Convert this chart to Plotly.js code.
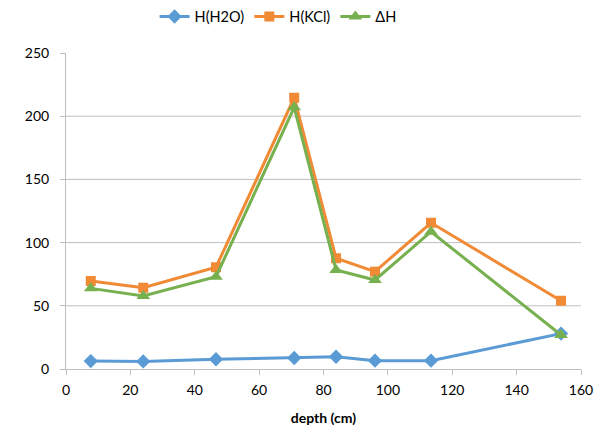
<!DOCTYPE html>
<html><head><meta charset="utf-8">
<script src="https://cdn.plot.ly/plotly-3.0.1.min.js"></script>
<style>html,body{margin:0;padding:0;background:#fff}#chart{width:597px;height:434px}</style>
</head><body><div id="chart"></div>
<script>
const depth = [7.7, 24.0, 46.6, 70.9, 83.9, 96.0, 113.4, 153.8];
const hH2O  = [6.3, 6.0, 7.7, 8.7, 9.7, 6.6, 6.6, 28.0];
const hKCl  = [69.6, 64.3, 80.5, 214.6, 87.6, 77.0, 115.7, 54.0];
const deltaH = [63.8, 57.8, 73.0, 207.0, 78.3, 70.4, 108.6, 26.9];
const names = ['H(H2O)', 'H(KCl)', '\u0394H'];
const xTicks = [0, 20, 40, 60, 80, 100, 120, 140, 160];
const yTicks = [0, 50, 100, 150, 200, 250];
const gridVals = [50, 100, 150, 200];

const font = 'Lato, "Open Sans", sans-serif';
const mk = (y, name, color, symbol, size) => ({
  x: depth, y: y, name: name, type: 'scatter', mode: 'lines+markers',
  line: {color: color, width: 3},
  marker: {color: color, symbol: symbol, size: size}
});
const data = [
  mk(hH2O, names[0], '#5B9BD5', 'diamond', 11),
  mk(hKCl, names[1], '#F08A35', 'square', 10),
  mk(deltaH, names[2], '#77B04E', 'triangle-up', 12)
];
const layout = {
  width: 597, height: 434,
  margin: {l: 66, r: 16, t: 53, b: 65},
  paper_bgcolor: '#fff', plot_bgcolor: '#fff',
  font: {family: font, size: 14, color: '#000'},
  showlegend: true,
  legend: {orientation: 'h', x: 0.172, xanchor: 'left', y: 0.925, yanchor: 'bottom', yref: 'container',
           font: {family: font, size: 14.5}, itemwidth: 30, tracegroupgap: 0},
  xaxis: {range: [0, 160], tickvals: xTicks, ticks: 'outside', ticklen: 5, tickcolor: '#BFBFBF',
          showline: true, linecolor: '#BFBFBF', linewidth: 1, showgrid: false, zeroline: false,
          ticklabelstandoff: 3,
          title: {text: '<b>depth (cm)</b>', font: {family: font, size: 14}, standoff: 16}},
  yaxis: {range: [0, 250], tickvals: yTicks, ticks: 'outside', ticklen: 5, tickcolor: '#BFBFBF',
          showline: true, linecolor: '#BFBFBF', linewidth: 1, showgrid: false, zeroline: false,
          ticklabelstandoff: 8},
  shapes: gridVals.map(v => ({type: 'line', xref: 'paper', x0: 0, x1: 1, yref: 'y', y0: v, y1: v,
          line: {color: '#BFBFBF', width: 1}, layer: 'below'}))
};
Plotly.newPlot('chart', data, layout, {displayModeBar: false});
</script></body></html>
